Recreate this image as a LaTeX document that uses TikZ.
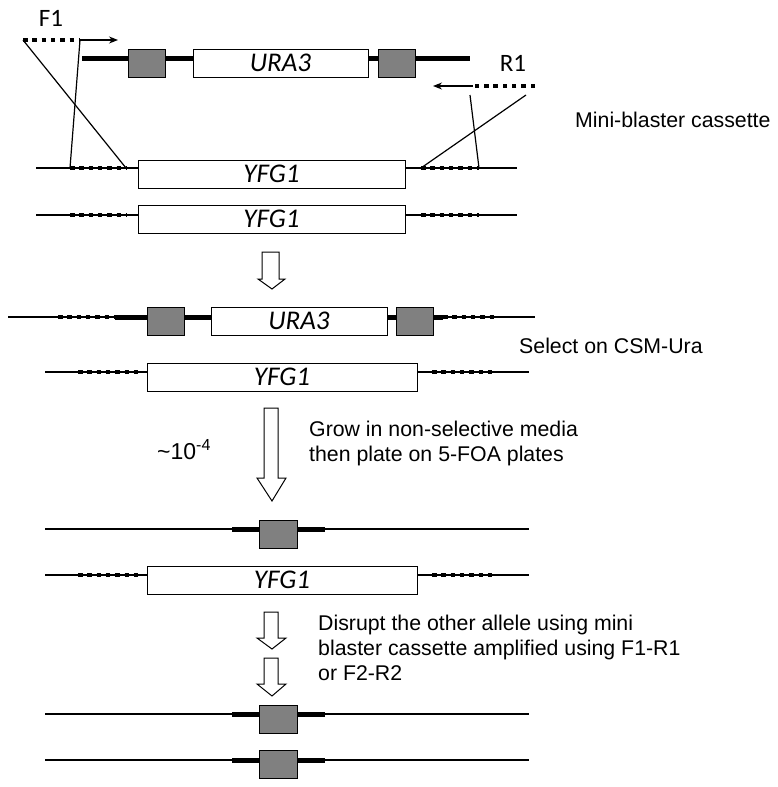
\documentclass[tikz,border=0pt]{standalone}
\usepackage{fontspec}
\setmainfont{Liberation Sans}
\newfontfamily\calfont{Carlito}
\usetikzlibrary{arrows.meta,calc}

\definecolor{boxgray}{RGB}{128,128,128}

\tikzset{
  strand/.style={draw, line width=1.2pt},
  flank/.style={draw, line width=4.5pt, dash pattern=on 4.5pt off 4.8pt},
  cassette/.style={draw, line width=5pt},
  gene/.style={draw, fill=white, line width=1pt, inner sep=0pt, minimum height=28pt,
    font=\calfont\itshape\fontsize{27}{27}\selectfont},
  marker/.style={draw, fill=boxgray, line width=1pt, inner sep=0pt, minimum width=37pt, minimum height=28pt},
  primer/.style={draw, line width=1.2pt, -{Stealth[length=9pt,width=7pt]}},
  blockarr/.style={draw, fill=white, line width=1pt, line join=miter},
  lbl/.style={inner sep=0pt, font=\fontsize{21.3}{25}\selectfont},
  plbl/.style={inner sep=0pt, font=\calfont\fontsize{25}{25}\selectfont}
}

\begin{document}
\begin{tikzpicture}[x=1pt, y=-1pt]
			\useasboundingbox (0,0) rectangle (778,787);
			
			% PRIMERS
			\node[plbl, anchor=base] (F1) at (51,26) {F1};
			\node[plbl, anchor=base] (R1) at (513,71) {R1};
			\coordinate (f1a) at (23,40); \coordinate (f1b) at (80,40); \coordinate (f1c) at (118,40);
			\coordinate (r1a) at (535,86); \coordinate (r1b) at (473,86); \coordinate (r1c) at (433,86);
			\path[flank] (f1a)--(f1b); \path[primer] (f1b)--(f1c);
			\path[flank] (r1a)--(r1b); \path[primer] (r1b)--(r1c);
			
			% mini-blaster cassette
			\coordinate (c1) at (82,58); \coordinate (c2) at (470,58);
			\path[cassette] (c1)--(c2);
			\node[marker] (gA) at (146.5,63) {};
			\node[gene, minimum width=175pt] (uraA) at (280.5,63) {URA3};
			\node[marker] (gB) at (396.5,63) {};
			\node[lbl, anchor=base west] (mini) at (575,127) {Mini-blaster cassette};
			
			% YFG1 / YFG1
			\coordinate (la) at (36,168); \coordinate (ra) at (517,168);
			\coordinate (fa1) at (70,168); \coordinate (fa2) at (126,168);
			\coordinate (fa3) at (421,168); \coordinate (fa4) at (479,168);
			\path[strand] (la)--(ra); \path[flank] (fa1)--(fa2); \path[flank] (fa3)--(fa4);
			\node[gene, minimum width=267pt] (yfgA) at (271.5,174) {YFG1};
			\coordinate (lb) at (36,215); \coordinate (rb) at (517,215);
			\path[strand] (lb)--(rb); \path[flank] (70,215)--(126,215); \path[flank] (421,215)--(479,215);
			\node[gene, minimum width=267pt] (yfgB) at (271.5,219) {YFG1};
			
			% homology arms
			\coordinate (r1d) at (470,95); \coordinate (r1e) at (526,95);
			\path[strand] (f1b)--(fa1); \path[strand] (f1a)--(fa2);
			\path[strand] (r1d)--(fa4); \path[strand] (r1e)--(fa3);
			
			\path[blockarr] (262,252)--(279,252)--(279,279)--(285,279)--(272,289)--(258,279)--(262,279)--cycle;
			
			% ura3 inserted
			\coordinate (lc) at (8,317); \coordinate (rc) at (535,317);
			\path[strand] (lc)--(rc);
			\path[flank] (58,317)--(115,317); \path[flank] (443,317)--(497,317);
			\path[cassette] (115,317)--(443,317);
			\node[marker] (gC) at (165.5,321) {};
			\node[gene, minimum width=176pt] (uraB) at (299,321) {URA3};
			\node[marker] (gD) at (414.5,321) {};
			\node[lbl, anchor=base west] (sel) at (519,353) {Select on CSM-Ura};
			
			\coordinate (ld) at (45,372); \coordinate (rd) at (529,372);
			\path[strand] (ld)--(rd); \path[flank] (78,372)--(139,372); \path[flank] (432,372)--(492,372);
			\node[gene, minimum width=270pt] (yfgC) at (282,377) {YFG1};
			
			\path[blockarr] (264,408)--(278,408)--(278,478)--(286,478)--(272,501)--(257,478)--(264,478)--cycle;
			\node[lbl, anchor=base west] (freq) at (157,459) {\fontsize{23}{25}\selectfont\textasciitilde10\raisebox{9pt}{\fontsize{16}{16}\selectfont -4}};
			\node[lbl, anchor=base west, align=left] (grow) at (309,461) {Grow in non-selective media\\then plate on 5-FOA plates};
			
			% pop-out
			\coordinate (le) at (45,529); \coordinate (re) at (529,529);
			\path[strand] (le)--(re); \path[cassette] (232,529)--(325,529);
			\node[marker, minimum width=38pt] (gE) at (278,534) {};
			
			\coordinate (lf) at (45,575); \coordinate (rf) at (529,575);
			\path[strand] (lf)--(rf); \path[flank] (78,575)--(139,575); \path[flank] (432,575)--(492,575);
			\node[gene, minimum width=270pt] (yfgD) at (282,580) {YFG1};
			
			\path[blockarr] (264,612)--(278,612)--(278,638)--(286,638)--(272,649)--(257,638)--(264,638)--cycle;
			\path[blockarr] (264,658)--(278,658)--(278,684)--(286,684)--(272,696)--(257,684)--(264,684)--cycle;
			\node[lbl, anchor=base west, align=left] (disr) at (318,680) {Disrupt the other allele using mini\\blaster cassette amplified using F1-R1\\or F2-R2};
			
			% both alleles
			\coordinate (lg) at (45,714); \coordinate (rg) at (529,714);
			\path[strand] (lg)--(rg); \path[cassette] (232,714)--(325,714);
			\node[marker, minimum width=38pt] (gF) at (278,719) {};
			\coordinate (lh) at (45,760); \coordinate (rh) at (529,760);
			\path[strand] (lh)--(rh); \path[cassette] (232,760)--(325,760);
			\node[marker, minimum width=38pt] (gG) at (278,764) {};
		\end{tikzpicture}
\end{document}
